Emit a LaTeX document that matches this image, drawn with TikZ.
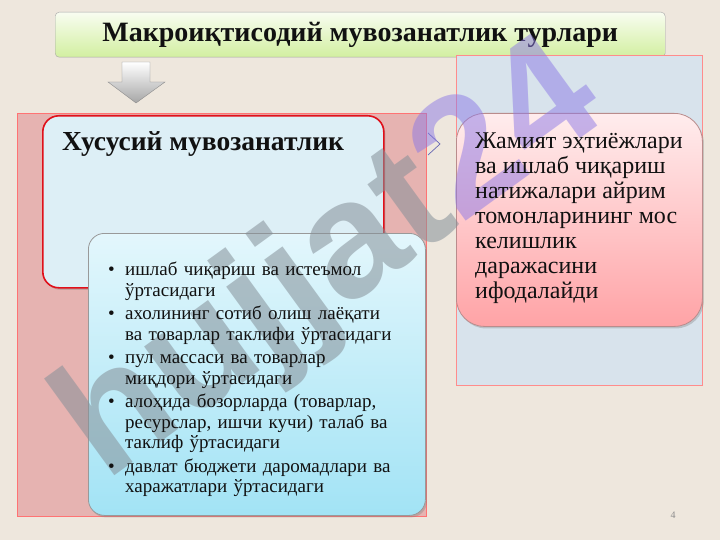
\documentclass[tikz,border=0pt]{standalone}
\usepackage{fontspec}
\setmainfont{Liberation Serif}
\newfontfamily\wmfont{Liberation Sans}
\usetikzlibrary{shadows,positioning}
\definecolor{slide}{HTML}{EEE7DD}
\definecolor{ink}{HTML}{111111}
\definecolor{lime}{HTML}{D2EFA0}
\definecolor{rosepanel}{HTML}{E6B3B1}
\definecolor{skypanel}{HTML}{D8E3EC}
\definecolor{icecard}{HTML}{DDEFF6}
\definecolor{cyancard}{HTML}{A2E3F5}
\definecolor{pinkcard}{HTML}{FFA3A6}
\definecolor{redline}{HTML}{E0101A}
\definecolor{wmgrey}{HTML}{6F7C86}
\definecolor{wmviolet}{HTML}{8C78E6}
\tikzset{
  titlebox/.style={draw=black!35, rounded corners=4pt, top color=white!85!lime,
                   bottom color=lime, inner sep=0pt, font=\fontsize{28}{30}\selectfont\bfseries,
                   text=ink, anchor=north west},
  panel/.style={anchor=north west, inner sep=0pt, line width=0.6pt},
  card/.style={anchor=north west, inner sep=0pt, rounded corners=16pt, text=ink,
               drop shadow={shadow xshift=1.5pt, shadow yshift=-2pt, opacity=0.35}},
  txt/.style={anchor=north west, inner sep=0pt, text=ink, align=left},
}
\newcommand{\blt}[1]{\par\hangindent=17pt\hangafter=1\noindent\makebox[17pt][l]{\textbullet}#1\par}

\begin{document}
\begin{tikzpicture}[x=1pt, y=-1pt]
  \fill[slide] (0,0) rectangle (720,540);
  \useasboundingbox (0,0) rectangle (720,540);

  % title and pointer
  \node[titlebox, minimum width=610pt, minimum height=45pt] (title) at (55,12)
    {Макроиқтисодий мувозанатлик турлари};
  \path[draw=black!45, top color=white, bottom color=black!35]
    (122,62) -- (150,62) -- (150,82) -- (165,82) -- (136,103) -- (108,82) -- (122,82) -- cycle;

  % background panels
  \node[panel, fill=rosepanel, draw=red!55, minimum width=409pt, minimum height=403pt]
    (left) at (17,113) {};
  \node[panel, fill=skypanel, draw=red!45, minimum width=246pt, minimum height=330pt]
    (right) at (456,55) {};

  % cards
  \node[card, fill=icecard, draw=redline, line width=1.6pt, minimum width=341pt,
        minimum height=172pt] (private) at (42,115) {};
  \node[card, top color=white!70!cyancard, bottom color=cyancard, draw=black!40,
        line width=0.8pt, minimum width=337pt, minimum height=282pt] (list) at (88,233) {};
  \node[card, rounded corners=28pt, top color=white!80!pinkcard, bottom color=pinkcard,
        draw=red!40!black!45, line width=0.8pt, minimum width=246pt,
        minimum height=213pt] (society) at (456,113) {};

  % chevron between panels
  \coordinate (chev) at (428,133);
  \draw[draw=black!50!blue!60, line width=0.7pt] (chev) -- ++(12,11) -- ++(-12,11);

  % watermark
  \node[rotate=36, inner sep=0pt, font=\wmfont\bfseries\fontsize{165}{165}\selectfont]
    (mark) at (333,265)
    {\textcolor{wmgrey!85}{\pgfsetfillopacity{0.55}hujjat}\textcolor{wmviolet}{\pgfsetfillopacity{0.5}24}};

  % texts
  \node[txt, font=\fontsize{27.5}{30}\selectfont\bfseries] (privlabel) at (62,131)
    {Хусусий мувозанатлик};
  \node[txt, text width=320pt, font=\fontsize{19}{20.5}\selectfont] (items) at (108,255)
    {\blt{ишлаб чиқариш ва истеъмол\newline ўртасидаги}\vspace{3pt}
     \blt{ахолининг сотиб олиш лаёқати\newline ва товарлар таклифи ўртасидаги}\vspace{3pt}
     \blt{пул массаси ва товарлар\newline миқдори ўртасидаги}\vspace{3pt}
     \blt{алоҳида бозорларда (товарлар,\newline ресурслар, ишчи кучи) талаб ва\newline таклиф ўртасидаги}\vspace{3pt}
     \blt{давлат бюджети даромадлари ва\newline харажатлари ўртасидаги}};
  \node[txt, font=\fontsize{24}{25}\selectfont] (socitext) at (475,133)
    {Жамият эҳтиёжлари\\ва ишлаб чиқариш\\натижалари айрим\\томонларининг мос\\келишлик\\даражасини\\ифодалайди};

  % slide number
  \node[font=\fontsize{10}{12}\selectfont, text=black!45] (num) at (673,515) {4};
\end{tikzpicture}
\end{document}
